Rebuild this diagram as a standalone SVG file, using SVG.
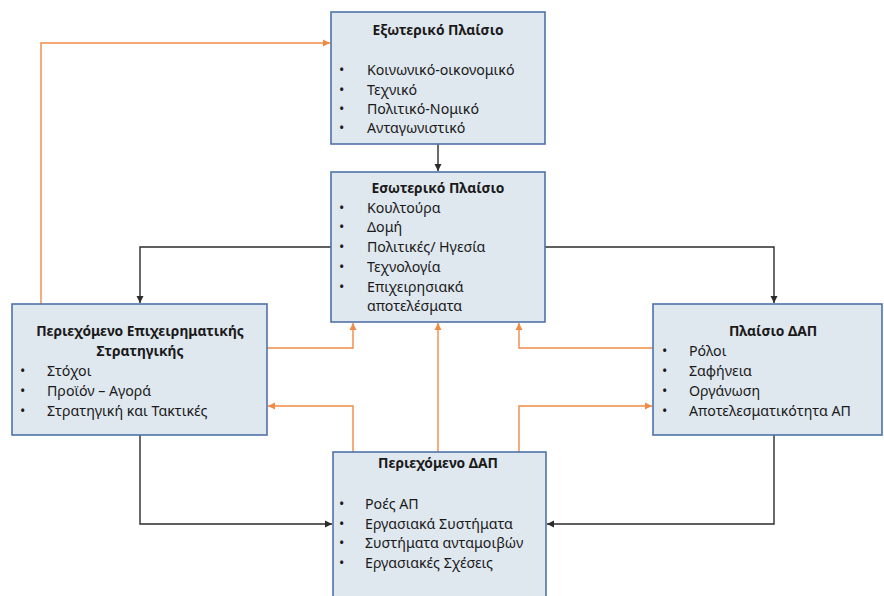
<svg xmlns="http://www.w3.org/2000/svg" width="884" height="596" viewBox="0 0 884 596">
  <style>
    .box { fill: #dfe7ef; stroke: #4f72a8; stroke-width: 1.6; }
    .t { font-family: "Noto Sans", "Open Sans", "DejaVu Sans", sans-serif; font-size: 14.2px; fill: #1a1a1a; }
    .h { font-weight: bold; text-anchor: middle; font-size: 13.8px; }
    .dark { fill: none; stroke: #2b2b2b; stroke-width: 1.4; }
    .org { fill: none; stroke: #f08a45; stroke-width: 1.4; }
  </style>
  <defs>
    <marker id="ad" markerWidth="8" markerHeight="8" refX="7" refY="4" orient="auto" markerUnits="userSpaceOnUse">
      <path d="M0,0.5 L7,4 L0,7.5 Z" fill="#2b2b2b"/>
    </marker>
    <marker id="ao" markerWidth="8" markerHeight="8" refX="7" refY="4" orient="auto" markerUnits="userSpaceOnUse">
      <path d="M0,0.5 L7,4 L0,7.5 Z" fill="#f08a45"/>
    </marker>
  </defs>
  <rect width="884" height="596" fill="#ffffff"/>

  <!-- connectors -->
  <g id="connectors">
    <path class="dark" d="M438,144 V171" marker-end="url(#ad)"/>
    <path class="dark" d="M331,247 H140 V303" marker-end="url(#ad)"/>
    <path class="dark" d="M545,247 H774 V303" marker-end="url(#ad)"/>
    <path class="dark" d="M140,435 V524 H332" marker-end="url(#ad)"/>
    <path class="dark" d="M774,435 V524 H547" marker-end="url(#ad)"/>
    <path class="org" d="M41,304 V43 H330" marker-end="url(#ao)"/>
    <path class="org" d="M267,348 H353 V323" marker-end="url(#ao)"/>
    <path class="org" d="M353,452 V406 H268" marker-end="url(#ao)"/>
    <path class="org" d="M438,452 V323" marker-end="url(#ao)"/>
    <path class="org" d="M653,348 H519 V323" marker-end="url(#ao)"/>
    <path class="org" d="M519,452 V406 H652" marker-end="url(#ao)"/>
  </g>

  <g id="external">
    <rect class="box" x="331" y="12" width="214" height="132"/>
    <text class="t h" x="438" y="35">Εξωτερικό Πλαίσιο</text>
    <text class="t" x="339" y="75">•</text><text class="t" x="367" y="75">Κοινωνικό-οικονομικό</text>
    <text class="t" x="339" y="95">•</text><text class="t" x="367" y="95">Τεχνικό</text>
    <text class="t" x="339" y="114">•</text><text class="t" x="367" y="114">Πολιτικό-Νομικό</text>
    <text class="t" x="339" y="133">•</text><text class="t" x="367" y="133">Ανταγωνιστικό</text>
  </g>

  <g id="internal">
    <rect class="box" x="331" y="172" width="214" height="150"/>
    <text class="t h" x="438" y="193">Εσωτερικό Πλαίσιο</text>
    <text class="t" x="339" y="213">•</text><text class="t" x="367" y="213">Κουλτούρα</text>
    <text class="t" x="339" y="232">•</text><text class="t" x="367" y="232">Δομή</text>
    <text class="t" x="339" y="252">•</text><text class="t" x="367" y="252">Πολιτικές/ Ηγεσία</text>
    <text class="t" x="339" y="272">•</text><text class="t" x="367" y="272">Τεχνολογία</text>
    <text class="t" x="339" y="292">•</text><text class="t" x="367" y="292">Επιχειρησιακά</text>
    <text class="t" x="367" y="311">αποτελέσματα</text>
  </g>

  <g id="strategy">
    <rect class="box" x="12" y="304" width="255" height="131"/>
    <text class="t h" x="140" y="336">Περιεχόμενο Επιχειρηματικής</text>
    <text class="t h" x="140" y="356">Στρατηγικής</text>
    <text class="t" x="20" y="376">•</text><text class="t" x="47" y="376">Στόχοι</text>
    <text class="t" x="20" y="396">•</text><text class="t" x="47" y="396">Προϊόν – Αγορά</text>
    <text class="t" x="20" y="416">•</text><text class="t" x="47" y="416">Στρατηγική και Τακτικές</text>
  </g>

  <g id="hrm-frame">
    <rect class="box" x="653" y="304" width="229" height="131"/>
    <text class="t h" x="773" y="336">Πλαίσιο ΔΑΠ</text>
    <text class="t" x="662" y="356">•</text><text class="t" x="689" y="356">Ρόλοι</text>
    <text class="t" x="662" y="376">•</text><text class="t" x="689" y="376">Σαφήνεια</text>
    <text class="t" x="662" y="396">•</text><text class="t" x="689" y="396">Οργάνωση</text>
    <text class="t" x="662" y="416">•</text><text class="t" x="689" y="416">Αποτελεσματικότητα ΑΠ</text>
  </g>

  <g id="hrm-content">
    <rect class="box" x="333" y="452" width="213" height="150"/>
    <text class="t h" x="438" y="468">Περιεχόμενο ΔΑΠ</text>
    <text class="t" x="339" y="509">•</text><text class="t" x="365" y="509">Ροές ΑΠ</text>
    <text class="t" x="339" y="529">•</text><text class="t" x="365" y="529">Εργασιακά Συστήματα</text>
    <text class="t" x="339" y="548">•</text><text class="t" x="365" y="548">Συστήματα ανταμοιβών</text>
    <text class="t" x="339" y="568">•</text><text class="t" x="365" y="568">Εργασιακές Σχέσεις</text>
  </g>
</svg>
